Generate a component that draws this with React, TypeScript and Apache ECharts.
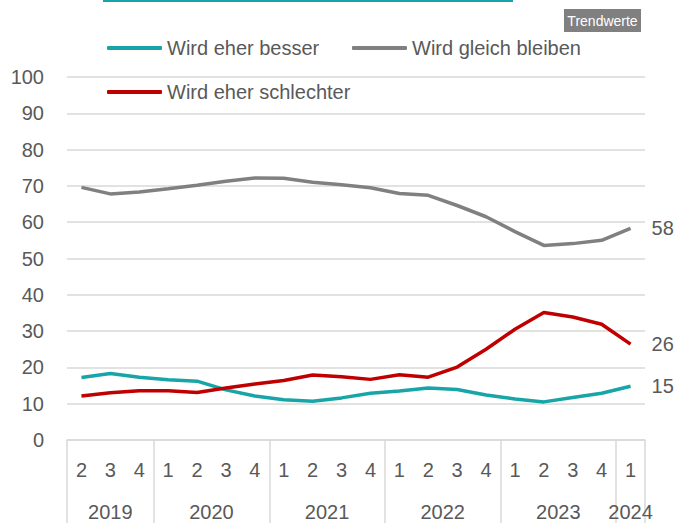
import React, { useEffect, useRef } from "react";
import * as echarts from "echarts";

const quarters = ["2", "3", "4", "1", "2", "3", "4", "1", "2", "3", "4", "1", "2", "3", "4", "1", "2", "3", "4", "1"];
// year label placed at half-category slot index (41 slots on boundaries/centers)
const years = ["2019", "2020", "2021", "2022", "2023", "2024"];
const yearSlots = [3, 10, 18, 26, 34, 39];
const yearBoundaryIdx = [0, 3, 7, 11, 15, 19];

const besser = [17.2, 18.3, 17.3, 16.6, 16.2, 13.8, 12.1, 11.1, 10.7, 11.6, 12.9, 13.5, 14.3, 13.9, 12.4, 11.3, 10.5, 11.7, 12.9, 14.8];
const gleich = [69.6, 67.8, 68.3, 69.2, 70.2, 71.3, 72.2, 72.1, 71.0, 70.3, 69.5, 67.9, 67.4, 64.6, 61.5, 57.4, 53.6, 54.1, 55.0, 58.3];
const schlechter = [12.1, 13.0, 13.6, 13.6, 13.1, 14.3, 15.4, 16.4, 17.9, 17.4, 16.7, 18.0, 17.3, 20.1, 25.0, 30.5, 35.1, 33.9, 31.9, 26.4];

const names = ["Wird eher besser", "Wird gleich bleiben", "Wird eher schlechter"];
const colors = ["#18a5a7", "#808080", "#c00000"];

const FONT = '"Liberation Sans Narrow", "Arial Narrow", "Liberation Sans", sans-serif';
const TXT = "#595959";
const GRID = "#d9d9d9";
const FS = 20;

export default function App() {
  const ref = useRef<HTMLDivElement>(null);
  useEffect(() => {
    if (!ref.current) return;
    const chart = echarts.init(ref.current, undefined, { renderer: "svg" });
    const yearAxisData: string[] = [];
    for (let i = 0; i <= quarters.length * 2; i++) {
      const k = yearSlots.indexOf(i);
      yearAxisData.push(k >= 0 ? years[k] : "");
    }
    const legendBase = {
      orient: "horizontal" as const,
      icon: "roundRect",
      itemWidth: 55,
      itemHeight: 4,
      padding: 0,
      textStyle: { fontFamily: FONT, fontSize: FS, color: TXT },
    };
    const series = [besser, gleich, schlechter].map((d, i) => ({
      name: names[i],
      type: "line",
      data: d,
      xAxisIndex: 0,
      symbol: "none",
      lineStyle: { width: 3.5, color: colors[i] },
      itemStyle: { color: colors[i] },
      endLabel: {
        show: true,
        distance: 21,
        formatter: (p: any) => String(Math.round(p.value)),
        fontFamily: FONT,
        fontSize: FS,
        color: TXT,
      },
    }));
    chart.setOption({
      animation: false,
      backgroundColor: "#ffffff",
      textStyle: { fontFamily: FONT },
      grid: { left: 67, right: 41, top: 77, bottom: 83, containLabel: false },
      legend: [
        { ...legendBase, data: [names[0]], left: 107, top: 38 },
        { ...legendBase, data: [names[1]], left: 352, top: 38 },
        { ...legendBase, data: [names[2]], left: 107, top: 82 },
      ],
      xAxis: [
        {
          type: "category",
          data: quarters,
          boundaryGap: true,
          position: "bottom",
          axisLine: { show: true, lineStyle: { color: GRID, width: 1.5 } },
          axisTick: {
            show: true,
            length: 83,
            interval: (idx: number) => yearBoundaryIdx.indexOf(idx) >= 0,
            lineStyle: { color: GRID, width: 1.5 },
          },
          axisLabel: { interval: 0, margin: 20, fontFamily: FONT, fontSize: FS, color: TXT },
          splitLine: { show: false },
        },
        {
          type: "category",
          data: yearAxisData,
          boundaryGap: false,
          position: "bottom",
          axisLine: { show: false },
          axisTick: { show: false },
          axisLabel: { interval: 0, margin: 62, fontFamily: FONT, fontSize: FS, color: TXT },
          splitLine: { show: false },
        },
      ],
      yAxis: {
        type: "value",
        min: 0,
        max: 100,
        interval: 10,
        axisLine: { show: false },
        axisTick: { show: false },
        axisLabel: { margin: 23, fontFamily: FONT, fontSize: FS, color: TXT },
        splitLine: { lineStyle: { color: GRID, width: 1.5 } },
      },
      graphic: [
        { type: "rect", shape: { x: 103, y: 0, width: 410, height: 2 }, style: { fill: "#18a5a7" } },
        { type: "rect", shape: { x: 564, y: 9, width: 77, height: 23 }, style: { fill: "#808080" } },
        {
          type: "text",
          x: 602.5,
          y: 20.5,
          style: {
            text: "Trendwerte",
            fill: "#ffffff",
            font: `14px ${FONT}`,
            align: "center",
            verticalAlign: "middle",
          },
        },
      ],
      series,
    });
    return () => chart.dispose();
  }, []);
  return <div ref={ref} style={{ width: 686, height: 523, position: "absolute", left: 0, top: 0 }} />;
}
